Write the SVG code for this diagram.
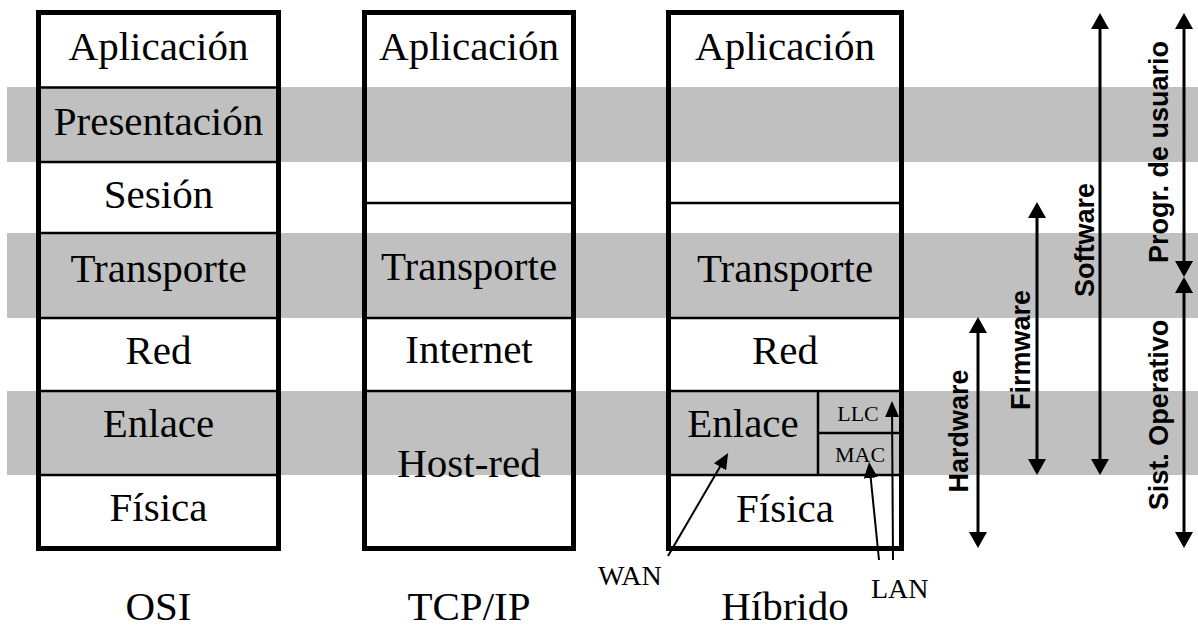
<svg xmlns="http://www.w3.org/2000/svg" width="1198" height="631" viewBox="0 0 1198 631">
<style>
.band{fill:#c0c0c0}
.box{fill:none;stroke:#000;stroke-width:5}
.ln{stroke:#000;stroke-width:2.5;fill:none}
.t{font-family:"Liberation Serif","Times New Roman",serif;font-size:41px;fill:#000;text-anchor:middle}
.s{font-family:"Liberation Serif","Times New Roman",serif;font-size:22px;fill:#000;text-anchor:middle}
.m{font-family:"Liberation Serif","Times New Roman",serif;font-size:28px;fill:#000}
.b{font-family:"Liberation Sans",Arial,sans-serif;font-size:27px;font-weight:bold;fill:#000;text-anchor:middle}
.ar{stroke:#000;stroke-width:3;fill:none;marker-start:url(#ah);marker-end:url(#ah)}
.pt{stroke:#000;stroke-width:2;fill:none;marker-end:url(#ah2)}
</style>
<defs>
<marker id="ah" viewBox="0 0 16 18" refX="13" refY="9" markerWidth="16" markerHeight="18" orient="auto-start-reverse" markerUnits="userSpaceOnUse">
<path d="M0,0 L16,9 L0,18 z" fill="#000"/>
</marker>
<marker id="ah2" viewBox="0 0 16 14" refX="13" refY="7" markerWidth="16" markerHeight="14" orient="auto" markerUnits="userSpaceOnUse">
<path d="M0,0 L16,7 L0,14 z" fill="#000"/>
</marker>
</defs>
<rect width="1198" height="631" fill="#fff"/>
<g id="bands">
<rect class="band" x="7" y="87" width="1191" height="75"/>
<rect class="band" x="7" y="233" width="1191" height="85"/>
<rect class="band" x="7" y="391" width="1191" height="84"/>
</g>
<g id="osi">
<line class="ln" x1="38" y1="87.5" x2="279" y2="87.5"/>
<line class="ln" x1="38" y1="162" x2="279" y2="162"/>
<line class="ln" x1="38" y1="233" x2="279" y2="233"/>
<line class="ln" x1="38" y1="318" x2="279" y2="318"/>
<line class="ln" x1="38" y1="391" x2="279" y2="391"/>
<line class="ln" x1="38" y1="475" x2="279" y2="475"/>
<rect class="box" x="38.5" y="12.5" width="240" height="536"/>
<text class="t" x="158.5" y="60">Aplicación</text>
<text class="t" x="158.5" y="135">Presentación</text>
<text class="t" x="158.5" y="208">Sesión</text>
<text class="t" x="158.5" y="282">Transporte</text>
<text class="t" x="158.5" y="364">Red</text>
<text class="t" x="158.5" y="437">Enlace</text>
<text class="t" x="158.5" y="521">Física</text>
<text class="t" x="158.5" y="620">OSI</text>
</g>
<g id="tcpip">
<line class="ln" x1="364" y1="203" x2="574" y2="203"/>
<line class="ln" x1="364" y1="318" x2="574" y2="318"/>
<line class="ln" x1="364" y1="391" x2="574" y2="391"/>
<rect class="box" x="364.5" y="12.5" width="209" height="536"/>
<text class="t" x="469" y="60">Aplicación</text>
<text class="t" x="469" y="280">Transporte</text>
<text class="t" x="469" y="363">Internet</text>
<text class="t" x="469" y="477">Host-red</text>
<text class="t" x="469" y="620">TCP/IP</text>
</g>
<g id="hibrido">
<line class="ln" x1="668" y1="203" x2="902" y2="203"/>
<line class="ln" x1="668" y1="318" x2="902" y2="318"/>
<line class="ln" x1="668" y1="391" x2="902" y2="391"/>
<line class="ln" x1="668" y1="475" x2="902" y2="475"/>
<line class="ln" x1="818" y1="391" x2="818" y2="475"/>
<line class="ln" x1="818" y1="433" x2="902" y2="433"/>
<rect class="box" x="668.5" y="12.5" width="233" height="536"/>
<text class="t" x="785" y="60">Aplicación</text>
<text class="t" x="785" y="282">Transporte</text>
<text class="t" x="785" y="364">Red</text>
<text class="t" x="743" y="437">Enlace</text>
<text class="s" x="858" y="421">LLC</text>
<text class="s" x="860" y="462">MAC</text>
<text class="t" x="785" y="522">Física</text>
<text class="t" x="785" y="620">Híbrido</text>
</g>
<g id="wan">
<text class="m" x="598" y="585">WAN</text>
</g>
<g id="lan">
<text class="m" x="871" y="598">LAN</text>
</g>
<g id="hardware">
<text class="b" transform="translate(968,431) rotate(-90)">Hardware</text>
</g>
<g id="firmware">
<text class="b" transform="translate(1030,350) rotate(-90)">Firmware</text>
</g>
<g id="software">
<text class="b" transform="translate(1094,240) rotate(-90)">Software</text>
</g>
<g id="progr">
<text class="b" transform="translate(1168,152) rotate(-90)">Progr. de usuario</text>
</g>
<g id="sistop">
<text class="b" transform="translate(1168,415) rotate(-90)">Sist. Operativo</text>
</g>
<g id="connectors">
<line class="pt" x1="668" y1="556" x2="726.6" y2="455.6"/>
<line class="pt" x1="879" y1="560" x2="869.4" y2="465"/>
<line class="pt" x1="893" y1="560" x2="892" y2="404"/>
<line class="ar" x1="978" y1="320" x2="978" y2="545"/>
<line class="ar" x1="1037" y1="205" x2="1037" y2="472"/>
<line class="ar" x1="1100" y1="16" x2="1100" y2="472"/>
<line class="ar" x1="1184" y1="16" x2="1184" y2="274"/>
<line class="ar" x1="1184" y1="280" x2="1184" y2="545"/>
</g>
</svg>
